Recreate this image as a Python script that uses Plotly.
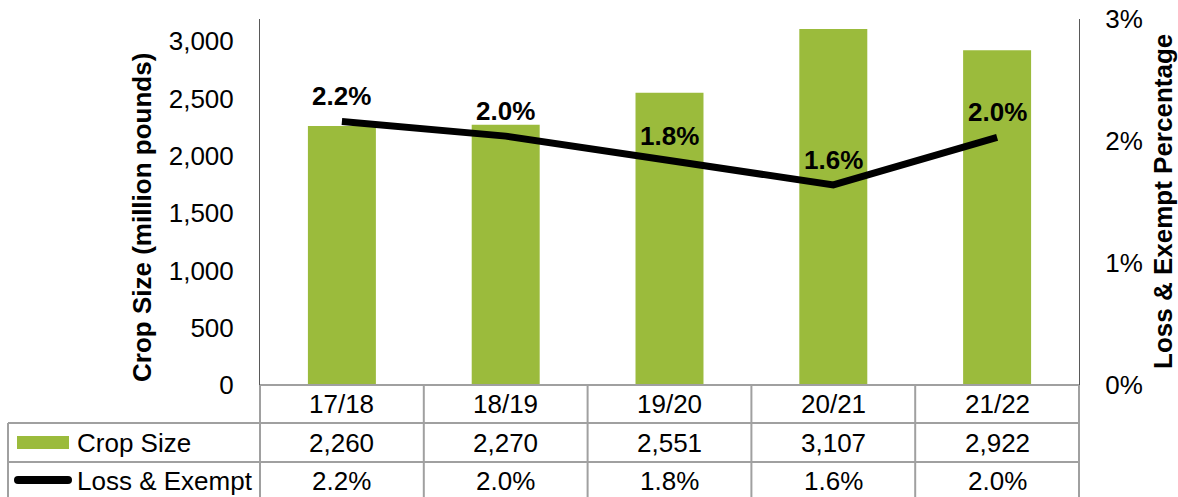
import plotly.graph_objects as go

categories = ["17/18", "18/19", "19/20", "20/21", "21/22"]
crop_size = [2260, 2270, 2551, 3107, 2922]
loss_exempt_pct = [2.16, 2.04, 1.84, 1.64, 2.03]

GREEN = "#9BBB3C"
GRID = "#A0A0A0"
AXIS = "#595959"
FONT = "Liberation Sans, Arial, sans-serif"
FS = 26

W, H = 1178, 497
L, R, T, B = 260, 1079, 19, 385

fig = go.Figure()
fig.add_trace(go.Bar(x=categories, y=crop_size, marker=dict(color=GREEN, line=dict(width=0)),
                     width=0.415, name="Crop Size", showlegend=False, hoverinfo="skip"))
fig.add_trace(go.Scatter(x=categories, y=loss_exempt_pct, yaxis="y2", mode="lines",
                         line=dict(color="black", width=7), name="Loss & Exempt",
                         showlegend=False, hoverinfo="skip"))

ymax = (B - T) / (B - 41.2) * 3000

fig.update_layout(
    width=W, height=H,
    margin=dict(l=L, r=W - R, t=T, b=H - B, pad=0, autoexpand=False),
    plot_bgcolor="white", paper_bgcolor="white",
    font=dict(family=FONT, size=FS, color="black"),
    xaxis=dict(showticklabels=False, showgrid=False, zeroline=False, showline=False,
               range=[-0.5, 4.5], fixedrange=True),
    yaxis=dict(range=[0, ymax], tickvals=[0, 500, 1000, 1500, 2000, 2500, 3000],
               tickformat=",d", showgrid=False, zeroline=False, showline=True,
               linecolor=AXIS, linewidth=1, ticks="", ticklabelstandoff=20,
               tickfont=dict(size=FS, family=FONT)),
    yaxis2=dict(range=[0, 3], overlaying="y", side="right",
                tickvals=[0, 1, 2, 3], ticktext=["0%", "1%", "2%", "3%"],
                showgrid=False, zeroline=False, showline=True, linecolor=AXIS, linewidth=1,
                ticks="", ticklabelstandoff=20, tickfont=dict(size=FS, family=FONT)),
)

def px_x(px):
    return (px - L) / (R - L)

def px_y(py):
    return (B - py) / (B - T)

ann = []
for c, v in zip(categories, loss_exempt_pct):
    ann.append(dict(x=c, y=v, xref="x", yref="y2", text=f"<b>{v:.1f}%</b>", showarrow=False,
                    xanchor="center", yanchor="middle",
                    yshift=25, font=dict(size=FS, family=FONT, color="black")))

ann.append(dict(x=px_x(142), y=px_y(218), xref="paper", yref="paper",
                xanchor="center", yanchor="middle",
                text="<b>Crop Size (million pounds)</b>", textangle=-90, showarrow=False,
                font=dict(size=FS, family=FONT)))
ann.append(dict(x=px_x(1163), y=px_y(202), xref="paper", yref="paper",
                xanchor="center", yanchor="middle",
                text="<b>Loss & Exempt Percentage</b>", textangle=-90, showarrow=False,
                font=dict(size=FS, family=FONT)))

row_y = [404, 443, 481]
for i, c in enumerate(categories):
    for ry, txt in zip(row_y, [c, f"{crop_size[i]:,}", f"{loss_exempt_pct[i]:.1f}%"]):
        ann.append(dict(x=c, y=px_y(ry), xref="x", yref="paper", text=txt, showarrow=False,
                        xanchor="center", yanchor="middle", font=dict(size=FS, family=FONT)))
ann.append(dict(x=px_x(75), y=px_y(row_y[1]), xref="paper", yref="paper", text="Crop Size",
                showarrow=False, xanchor="left", yanchor="middle", font=dict(size=FS, family=FONT)))
ann.append(dict(x=px_x(75), y=px_y(row_y[2]), xref="paper", yref="paper", text="Loss & Exempt",
                showarrow=False, xanchor="left", yanchor="middle", font=dict(size=FS, family=FONT)))

shapes = []
def hline(x0, x1, y):
    shapes.append(dict(type="line", xref="paper", yref="paper", x0=px_x(x0), x1=px_x(x1),
                       y0=px_y(y), y1=px_y(y), line=dict(color=GRID, width=2)))
def vline(x, y0, y1):
    shapes.append(dict(type="line", xref="paper", yref="paper", x0=px_x(x), x1=px_x(x),
                       y0=px_y(y0), y1=px_y(y1), line=dict(color=GRID, width=2)))

hline(L, R, B)
hline(8, R, 423)
hline(8, R, 462)
hline(8, R, 498)
vline(8, 423, 500)
cat_w = (R - L) / len(categories)
for k in range(len(categories) + 1):
    vline(L + k * cat_w, B, 500)

shapes.append(dict(type="rect", xref="paper", yref="paper", x0=px_x(17), x1=px_x(69),
                   y0=px_y(449), y1=px_y(436), fillcolor=GREEN, line=dict(width=0)))
shapes.append(dict(type="line", xref="paper", yref="paper", x0=px_x(18), x1=px_x(68),
                   y0=px_y(480), y1=px_y(480), line=dict(color="black", width=8)))
for cx in (18, 68):
    shapes.append(dict(type="circle", xref="paper", yref="paper", x0=px_x(cx - 4), x1=px_x(cx + 4),
                       y0=px_y(484), y1=px_y(476), fillcolor="black", line=dict(width=0)))

fig.update_layout(annotations=ann, shapes=shapes)
fig.write_html("out.html", config={"displayModeBar": False},
               post_script="document.body.style.margin='0';")
